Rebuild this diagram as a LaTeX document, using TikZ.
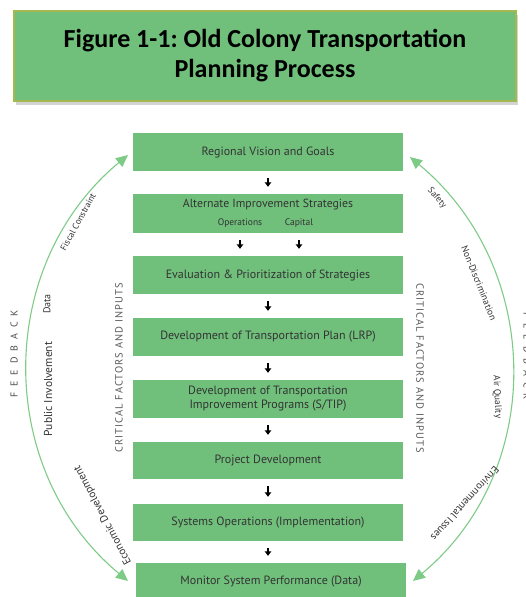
\documentclass[tikz,border=0pt]{standalone}
\usepackage{fontspec}
\setmainfont{PT Sans}
\newfontfamily\titlefont{Carlito}
\usetikzlibrary{positioning,arrows.meta,shadows}
\frenchspacing

\definecolor{boxgreen}{HTML}{70C07C}
\definecolor{arcgreen}{HTML}{7ECB87}
\definecolor{olivegreen}{HTML}{A3B84F}
\definecolor{txtgray}{HTML}{333333}

\tikzset{
  titlebox/.style={fill=boxgreen, draw=olivegreen, line width=1.5pt,
    minimum width=502pt, minimum height=90pt, align=center,
    font=\titlefont\bfseries\fontsize{26}{30}\selectfont,
    drop shadow={shadow xshift=2pt, shadow yshift=-4pt, opacity=.35}},
  stage/.style={fill=boxgreen, minimum width=270pt, minimum height=38pt,
    inner sep=0pt, align=center, text=txtgray,
    font=\fontsize{12}{14}\selectfont},
  tick/.style={line width=2.2pt, -{Triangle[width=6.5pt,length=4.5pt]},
    shorten <=7pt, shorten >=7pt},
  fbarc/.style={arcgreen, line width=1.1pt,
    {Triangle[length=12pt,width=11pt]}-{Triangle[length=12pt,width=11pt]}},
  factor/.style={text=txtgray, inner sep=0pt},
  sidecap/.style={text=black!65, inner sep=0pt,
    font=\fontsize{10.5}{10}\selectfont\addfontfeatures{LetterSpace=10}},
  fbcap/.style={text=black!70, inner sep=0pt,
    font=\fontsize{10}{10}\selectfont\addfontfeatures{LetterSpace=60}},
}

\begin{document}
\begin{tikzpicture}[x=1pt,y=-1pt]
\useasboundingbox (0,0) rectangle (525,597);
\clip (0,0) rectangle (525,597);

% title
\node[titlebox] (title) at (265,56) {Figure 1-1: Old Colony Transportation\\Planning Process};

% process steps
\node[stage] (vision) at (268,152) {Regional Vision and Goals};
\node[stage, minimum height=39pt] (alt) at (268,213.5) {};
\node[text=txtgray, font=\fontsize{11.8}{12}\selectfont] (altname) at (268,205) {Alternate Improvement Strategies};
\node[text=txtgray, font=\fontsize{9.5}{10}\selectfont] (ops) at (240,223) {Operations};
\node[text=txtgray, font=\fontsize{9.5}{10}\selectfont] (cap) at (299,223) {Capital};
\node[stage] (eval) at (268,275) {Evaluation \& Prioritization of Strategies};
\node[stage] (lrp) at (268,337) {Development of Transportation Plan (LRP)};
\node[stage] (stip) at (268,399) {Development of Transportation\\Improvement Programs (S/TIP)};
\node[stage, minimum height=37pt] (projdev) at (268,460.5) {Project Development};
\node[stage, minimum height=37pt] (sysops) at (268,522.5) {Systems Operations (Implementation)};
\node[stage, minimum height=37pt] (monitor) at (271,581.5) {Monitor System Performance (Data)};

\draw[tick] (vision) -- (alt);
\draw[tick] (ops |- alt.south) -- (ops |- eval.north);
\draw[tick] (cap |- alt.south) -- (cap |- eval.north);
\draw[tick] (eval) -- (lrp);
\draw[tick] (lrp) -- (stip);
\draw[tick] (stip) -- (projdev);
\draw[tick] (projdev) -- (sysops);
\draw[tick] (sysops) -- (sysops |- monitor.north);

% side captions
\node[sidecap, rotate=90] (critL) at (119,368) {CRITICAL FACTORS AND INPUTS};
\node[sidecap, rotate=-90] (critR) at (420,368) {CRITICAL FACTORS AND INPUTS};
\node[fbcap, rotate=90] (fbL) at (14,354) {FEEDBACK};
\node[fbcap, rotate=-90] (fbR) at (527,356) {FEEDBACK};

% feedback arcs
\coordinate (arcLtop) at (128,155);
\coordinate (arcLbot) at (128,581);
\coordinate (arcRtop) at (410,157);
\coordinate (arcRbot) at (413,581);
\draw[fbarc] (arcLbot) .. controls (-5.4,470.3) and (-5.4,265.7) .. (arcLtop);
\draw[fbarc] (arcRtop) .. controls (543.4,267.7) and (546.4,470.3) .. (arcRbot);

% factors
\node[factor, rotate=61, font=\fontsize{9}{8}\selectfont] (fiscal) at (78,222) {Fiscal Constraint};
\node[factor, rotate=90, font=\fontsize{10}{8}\selectfont] (data) at (47,304) {Data};
\node[factor, rotate=90, font=\fontsize{11.5}{8}\selectfont] (public) at (48,389) {Public Involvement};
\node[factor, rotate=118, font=\fontsize{11}{8}\selectfont] (econ) at (103,515) {Economic Development};
\node[factor, rotate=-48, font=\fontsize{9}{8}\selectfont] (safety) at (437,198) {Safety};
\node[factor, rotate=-68, font=\fontsize{9.5}{8}\selectfont] (nondisc) at (479,283) {Non-Discrimination};
\node[factor, rotate=-87, font=\fontsize{9.4}{8}\selectfont] (airq) at (497,397) {Air Quality};
\node[factor, rotate=-132, font=\fontsize{10.5}{8}\selectfont] (env) at (465,504) {Environmental Issues};
\end{tikzpicture}
\end{document}
